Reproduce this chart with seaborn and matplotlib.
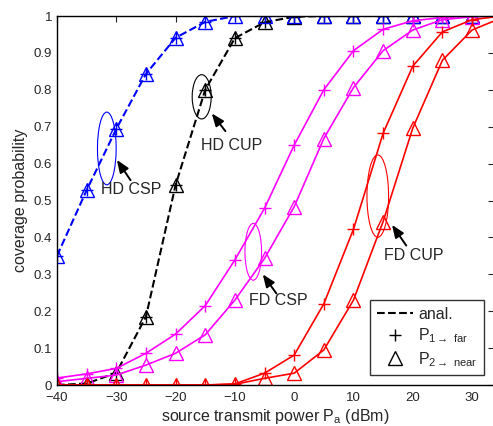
import matplotlib
matplotlib.use("Agg")
import matplotlib.pyplot as plt
import seaborn as sns
import numpy as np
from matplotlib.patches import Ellipse
from matplotlib.lines import Line2D

# source transmit power (dBm)
power = [-40, -35, -30, -25, -20, -15, -10, -5, 0, 5, 10, 15, 20, 25, 30, 35]

# half duplex, cooperative SIC protocol (both users overlap)
hd_csp = [0.35, 0.528, 0.694, 0.843, 0.941, 0.984, 1.0, 1.0, 1.0, 1.0, 1.0, 1.0, 1.0, 1.0, 1.0, 1.0]
# half duplex, cooperative user protocol
hd_cup = [0.0, 0.004, 0.033, 0.185, 0.542, 0.80, 0.94, 0.983, 0.998, 1.0, 1.0, 1.0, 1.0, 1.0, 1.0, 1.0]
# full duplex CSP
fd_csp_far = [0.019, 0.03, 0.045, 0.086, 0.138, 0.215, 0.339, 0.479, 0.65, 0.80, 0.906, 0.964, 0.987, 0.996, 1.0, 1.0]
fd_csp_near = [0.009, 0.018, 0.027, 0.054, 0.086, 0.136, 0.23, 0.343, 0.483, 0.668, 0.806, 0.906, 0.962, 0.99, 0.998, 1.0]
# full duplex CUP
fd_cup_far = [0.0, 0.0, 0.0, 0.0, 0.0, 0.0, 0.003, 0.032, 0.081, 0.22, 0.422, 0.682, 0.864, 0.957, 0.99, 1.0]
fd_cup_near = [0.0, 0.0, 0.0, 0.0, 0.0, 0.0, 0.002, 0.018, 0.032, 0.095, 0.23, 0.443, 0.696, 0.88, 0.962, 0.995]

sns.set_style("white")
plt.rcParams['font.family'] = ['Liberation Sans', 'DejaVu Sans']
plt.rcParams['mathtext.fontset'] = 'custom'
plt.rcParams['mathtext.rm'] = 'Liberation Sans'
plt.rcParams['mathtext.it'] = 'Liberation Sans'

fig = plt.figure(figsize=(4.93, 4.26), dpi=100)
ax = fig.add_axes([57 / 493, 1 - 385 / 426, 1 - 57 / 493 + 0.002, (385 - 16) / 426])


def plus_kw(col):
    return dict(marker='+', markersize=9, markeredgewidth=1.0, markeredgecolor=col)


def tri_kw(col):
    return dict(marker='^', markersize=9.5, markerfacecolor='none',
                markeredgewidth=1.0, markeredgecolor=col)


# half duplex curves: dashed analysis + simulation markers
for vals, col in [(hd_cup, 'black'), (hd_csp, 'blue')]:
    sns.lineplot(x=power, y=vals, color=col, linestyle='--', linewidth=1.5, ax=ax)
    sns.lineplot(x=power, y=vals, color=col, linestyle='none', ax=ax, **plus_kw(col))
    sns.lineplot(x=power, y=vals, color=col, linestyle='none', ax=ax, **tri_kw(col))

# full duplex curves
for far, near, col in [(fd_csp_far, fd_csp_near, 'magenta'), (fd_cup_far, fd_cup_near, 'red')]:
    sns.lineplot(x=power, y=far, color=col, linewidth=1.2, ax=ax, **plus_kw(col))
    sns.lineplot(x=power, y=near, color=col, linewidth=1.2, ax=ax, **tri_kw(col))

ax.set_xlim(-40, 33.7)
ax.set_ylim(0, 1)
ax.set_xticks(range(-40, 31, 10))
ax.set_yticks(np.arange(0, 1.01, 0.1))
ax.set_yticklabels(['0', '0.1', '0.2', '0.3', '0.4', '0.5', '0.6', '0.7', '0.8', '0.9', '1'])
ax.tick_params(direction='in', top=True, right=True, length=4, width=0.8, labelsize=9.5)
ax.tick_params(axis='x', pad=5)
ax.set_xticklabels(['\u221240', '\u221230', '\u221220', '\u221210', '0', '10', '20', '30'])
for s in ax.spines.values():
    s.set_linewidth(1.0)
    s.set_color('black')

ax.set_xlabel(r'source transmit power P$_\mathrm{a}$ (dBm)', fontsize=11.5, labelpad=2)
ax.set_ylabel('coverage probability', fontsize=11.5, labelpad=4)

# ellipses + labels
ells = [(-31.6, 0.641, 3.15, 0.197, 'blue'),
        (-15.6, 0.781, 3.2, 0.12, 'black'),
        (-6.9, 0.361, 2.8, 0.154, 'magenta'),
        (14.1, 0.512, 3.65, 0.223, 'red')]
for cx, cy, w, h, col in ells:
    ax.add_patch(Ellipse((cx, cy), w, h, fill=False, edgecolor=col, linewidth=0.8))

notes = [('HD CSP', (-29.9, 0.61), (-27.6, 0.555), (-32.6, 0.531)),
         ('HD CUP', (-13.9, 0.736), (-11.6, 0.688), (-15.7, 0.65)),
         ('FD CSP', (-5.3, 0.30), (-3.0, 0.248), (-7.7, 0.23)),
         ('FD CUP', (16.5, 0.434), (18.9, 0.378), (15.1, 0.352))]
for txt, tip, tail, pos in notes:
    ax.annotate('', xy=tip, xytext=tail,
                arrowprops=dict(arrowstyle='-|>,head_length=0.75,head_width=0.3',
                                color='black', linewidth=1.4, shrinkA=0, shrinkB=0))
    ax.text(pos[0], pos[1], txt, fontsize=11.5, va='center', ha='left')

handles = [Line2D([], [], color='black', linestyle='--', linewidth=1.5),
           Line2D([], [], color='black', linestyle='none', **plus_kw('black')),
           Line2D([], [], color='black', linestyle='none', **tri_kw('black'))]
labels = ['anal.', r'P$_{1\rightarrow\ \mathrm{far}}$', r'P$_{2\rightarrow\ \mathrm{near}}$']
leg = ax.legend(handles, labels, loc='lower right', fontsize=11.5, frameon=True,
                fancybox=False, edgecolor='black', handlelength=2.3,
                borderaxespad=0.5, labelspacing=0.3, handletextpad=0.3,
                bbox_to_anchor=(0.995, 0.005))
leg.get_frame().set_linewidth(1.0)

fig.savefig('out.png', dpi=100)
